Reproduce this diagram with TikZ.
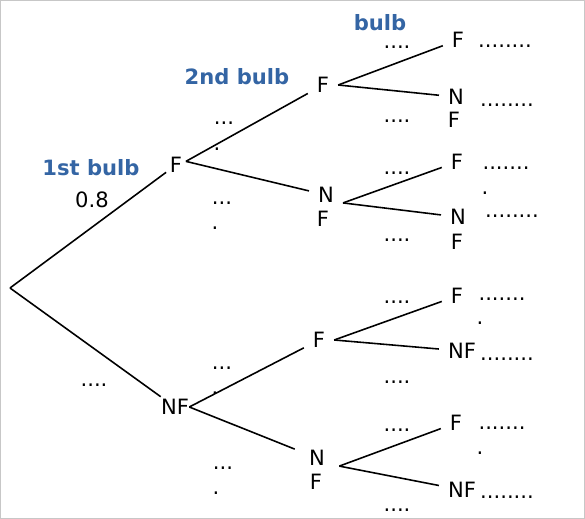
\documentclass[tikz,border=0pt]{standalone}
\usepackage{fontspec}
\setmainfont{DejaVu Sans}
\definecolor{headblue}{RGB}{52,101,164}
\colorlet{fg}{black}
\colorlet{frame}{black!22}

\begin{document}
\begin{tikzpicture}[x=0.02cm,y=-0.02cm,
	    txt/.style={inner ysep=2pt,inner xsep=5pt,font=\fontsize{12}{14}\selectfont},
	    dots/.style={inner sep=0pt,font=\fontsize{12}{14}\selectfont},
	    head/.style={inner sep=2pt,text=headblue,font=\fontsize{12}{14}\selectfont\bfseries},
	    branch/.style={draw=fg,line width=0.9pt}]
	    \useasboundingbox (0,0) rectangle (585,519);
	    \draw[frame,line width=0.6pt] (0.5,0.5) rectangle (584.5,518.5);
	    \node[head] (h1) at (91,168) {1st bulb};
	    \node[head] (h2) at (237,77) {2nd bulb};
	    \node[head] (h3) at (380,23) {bulb};
	    \node[txt,inner sep=2pt] (p1) at (92,200) {0.8};
	    \coordinate (root) at (10,288);
	    \node[txt,inner xsep=2pt] (f1) at (176,165) {F};
	    \node[txt,inner xsep=0pt] (nf1) at (175,407) {NF};
	    \node[txt] (f2a) at (323,85) {F};
	    \node[txt] (n2b) at (326,195) {N};
	    \node[txt] (n2bf) at (323,219) {F};
	    \node[txt] (f2c) at (319,340) {F};
	    \node[txt,inner xsep=8pt] (n2d) at (317,458) {N};
	    \node[txt] (n2df) at (316,482) {F};
	    \node[txt] (f3a) at (458,40) {F};
	    \node[txt] (n3b) at (456,97) {N};
	    \node[txt] (n3bf) at (454,120) {F};
	    \node[txt] (f3c) at (457,162) {F};
	    \node[txt] (n3d) at (458,217) {N};
	    \node[txt] (n3df) at (457,242) {F};
	    \node[txt] (f3e) at (457,296) {F};
	    \node[txt] (nf3f) at (462,351) {NF};
	    \node[txt] (f3g) at (456,423) {F};
	    \node[txt] (nf3h) at (462,490) {NF};
	    \draw[branch] (root) -- (f1);
	    \draw[branch] (root) -- (nf1);
	    \draw[branch] (f1.20) -- (f2a);
	    \draw[branch] (f1.20) -- (n2b);
	    \draw[branch] (nf1.east) -- (f2c);
	    \draw[branch] (nf1.east) -- (n2d);
	    \draw[branch] (f2a.east) -- (f3a);
	    \draw[branch] (f2a.east) -- (n3b);
	    \draw[branch] (n2b.-25) -- (f3c);
	    \draw[branch] (n2b.-25) -- (n3d);
	    \draw[branch] (f2c.east) -- (f3e);
	    \draw[branch] (f2c.east) -- (nf3f);
	    \draw[branch] (n2d.-20) -- (f3g);
	    \draw[branch] (n2d.-20) -- (nf3h);
	    \node[dots] (d1) at (94,385) {....};
	    \node[dots] (d2) at (224,123) {...};
	    \node[dots] (d2b) at (217,149) {.};
	    \node[dots] (d3) at (222,203) {...};
	    \node[dots] (d3b) at (215,228) {.};
	    \node[dots] (d4) at (222,368) {...};
	    \node[dots] (d4b) at (215,393) {.};
	    \node[dots] (d5) at (223,468) {...};
	    \node[dots] (d5b) at (216,493) {.};
	    \node[dots] (e1) at (397,47) {....};
	    \node[dots] (e2) at (397,121) {....};
	    \node[dots] (e3) at (397,173) {....};
	    \node[dots] (e4) at (397,240) {....};
	    \node[dots] (e5) at (397,302) {....};
	    \node[dots] (e6) at (397,382) {....};
	    \node[dots] (e7) at (397,430) {....};
	    \node[dots] (e8) at (397,510) {....};
	    \node[dots] (r1) at (505,46) {........};
	    \node[dots] (r2) at (507,105) {........};
	    \node[dots] (r3) at (506,168) {.......};
	    \node[dots] (r3b) at (485,193) {.};
	    \node[dots] (r4) at (512,216) {........};
	    \node[dots] (r5) at (502,299) {.......};
	    \node[dots] (r5b) at (480,323) {.};
	    \node[dots] (r6) at (507,359) {........};
	    \node[dots] (r7) at (502,428) {.......};
	    \node[dots] (r7b) at (480,453) {.};
	    \node[dots] (r8) at (507,497) {........};
\end{tikzpicture}
\end{document}
